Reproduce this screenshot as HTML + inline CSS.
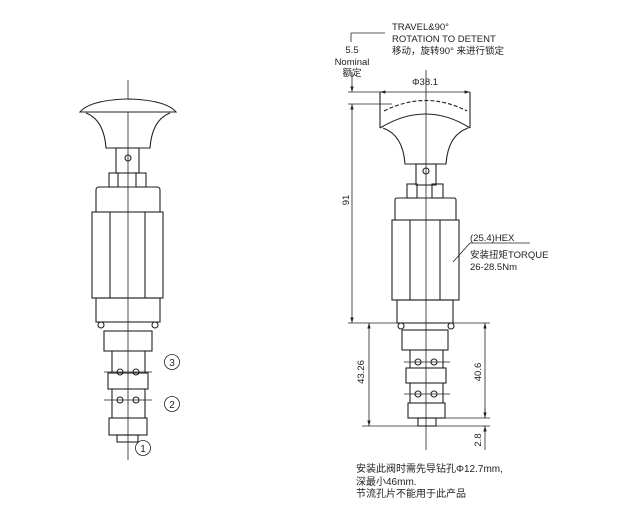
<!DOCTYPE html>
<html><head><meta charset="utf-8"><style>
html,body{margin:0;padding:0;background:#fff;}
svg{display:block;}
text{font-family:"Liberation Sans","Noto Sans CJK SC",sans-serif;fill:#222;}
</style></head><body>
<svg width="636" height="521" viewBox="0 0 636 521" xmlns="http://www.w3.org/2000/svg">
<defs>
<marker id="a" viewBox="0 0 10 10" refX="10" refY="5" markerWidth="7" markerHeight="7" orient="auto-start-reverse"><path d="M0,2 L10,5 L0,8 z" fill="#222"/></marker>
</defs>
<g fill="none" stroke="#222" stroke-width="1.1">
<!-- LEFT VALVE -->
<line x1="128" y1="80" x2="128" y2="460" stroke-width="0.8"/>
<path d="M80,112 Q90,100 128,99 Q166,100 176,112 Z" fill="#fff"/>
<path d="M86,113 Q104,120 106,148 L150,148 Q152,120 170,113"/>
<rect x="116" y="148" width="23" height="25"/>
<circle cx="128" cy="158" r="3"/>
<rect x="109" y="173" width="9" height="14"/>
<rect x="136" y="173" width="10" height="14"/>
<path d="M96,212 L96,190 Q96,187 99,187 L157,187 Q160,187 160,190 L160,212"/>
<rect x="92" y="212" width="71" height="86"/>
<line x1="110" y1="212" x2="110" y2="298"/><line x1="145" y1="212" x2="145" y2="298"/>
<rect x="96" y="298" width="64" height="24"/>
<circle cx="101" cy="325" r="3"/><circle cx="155" cy="325" r="3"/>
<rect x="104" y="331" width="48" height="20"/>
<path d="M112,351 L112,373 M145,351 L145,373"/>
<line x1="104" y1="372" x2="152" y2="372" stroke-width="0.7"/>
<circle cx="120" cy="372" r="3"/><circle cx="136" cy="372" r="3"/>
<rect x="108" y="373" width="40" height="16"/>
<path d="M112,389 L112,418 M145,389 L145,418"/>
<line x1="104" y1="400" x2="152" y2="400" stroke-width="0.7"/>
<circle cx="120" cy="400" r="3"/><circle cx="136" cy="400" r="3"/>
<rect x="109" y="418" width="38" height="17"/>
<rect x="117" y="435" width="21" height="7"/>
<circle cx="172" cy="362" r="7.5" stroke-width="0.8"/>
<circle cx="172" cy="404" r="7.5" stroke-width="0.8"/>
<circle cx="143" cy="448" r="7.5" stroke-width="0.8"/>

<!-- RIGHT VALVE -->
<line x1="426" y1="70" x2="426" y2="450" stroke-width="0.8"/>
<path d="M380,128 L380,92 M470,128 L470,92"/>
<path d="M380,128 Q426,100 470,128"/>
<path d="M384,111 Q426,90 467,111" stroke-dasharray="4,2"/>
<path d="M383,128 Q403,135 405,164 L446,164 Q448,135 468,128"/>
<rect x="416" y="164" width="20" height="21"/>
<circle cx="426" cy="171" r="3"/>
<rect x="407" y="184" width="10" height="14"/>
<rect x="432" y="184" width="11" height="14"/>
<path d="M395,220 L395,200 Q395,198 397,198 L454,198 Q456,198 456,200 L456,220"/>
<rect x="392" y="220" width="67" height="80"/>
<line x1="410" y1="220" x2="410" y2="300"/><line x1="440" y1="220" x2="440" y2="300"/>
<rect x="397" y="300" width="56" height="23"/>
<circle cx="401" cy="326" r="3"/><circle cx="451" cy="326" r="3"/>
<rect x="402" y="330" width="46" height="20"/>
<path d="M410,350 L410,368 M443,350 L443,368"/>
<line x1="404" y1="362" x2="450" y2="362" stroke-width="0.7"/>
<circle cx="418" cy="362" r="3"/><circle cx="434" cy="362" r="3"/>
<rect x="406" y="368" width="40" height="15"/>
<path d="M410,383 L410,403 M443,383 L443,403"/>
<line x1="404" y1="394" x2="450" y2="394" stroke-width="0.7"/>
<circle cx="418" cy="394" r="3"/><circle cx="434" cy="394" r="3"/>
<rect x="408" y="403" width="37" height="15"/>
<rect x="418" y="418" width="18" height="8"/>

<!-- dims -->
<line x1="380" y1="92" x2="470" y2="92" marker-start="url(#a)" marker-end="url(#a)" stroke-width="0.8"/>
<line x1="348" y1="104" x2="392" y2="104" stroke-width="0.8"/>
<line x1="348" y1="92" x2="385" y2="92" stroke-width="0.8"/>
<path d="M352,72 L352,92" marker-end="url(#a)" stroke-width="0.8"/>
<path d="M351,33 L385,33 M351,33 L351,42" stroke-width="0.8"/>
<line x1="352" y1="104" x2="352" y2="323" marker-start="url(#a)" marker-end="url(#a)" stroke-width="0.8"/>
<line x1="348" y1="323" x2="490" y2="323" stroke-width="0.8"/>
<line x1="369" y1="323" x2="369" y2="426" marker-start="url(#a)" marker-end="url(#a)" stroke-width="0.8"/>
<line x1="485" y1="323" x2="485" y2="418" marker-start="url(#a)" marker-end="url(#a)" stroke-width="0.8"/>
<line x1="430" y1="418" x2="490" y2="418" stroke-width="0.8"/>
<line x1="362" y1="426" x2="490" y2="426" stroke-width="0.8"/>
<path d="M485,408 L485,418" stroke-width="0.8"/>
<path d="M485,450 L485,426" marker-end="url(#a)" stroke-width="0.8"/>
<path d="M453,262 L470,243 L530,243" stroke-width="0.8"/>
</g>
<g font-size="10" text-anchor="middle"><text x="172" y="366">3</text><text x="172" y="408">2</text><text x="143" y="452">1</text></g>
<g font-size="9.5">
<text x="392" y="30">TRAVEL&amp;90°</text>
<text x="392" y="42">ROTATION TO DETENT</text>
<text x="392" y="54">移动，旋转90° 来进行锁定</text>
<text x="352" y="53" text-anchor="middle">5.5</text>
<text x="352" y="65" text-anchor="middle">Nominal</text>
<text x="352" y="76" text-anchor="middle">额定</text>
<text x="425" y="85" text-anchor="middle">Φ38.1</text>
<text x="470" y="241">(25.4)HEX</text>
<text x="470" y="258">安装扭矩TORQUE</text>
<text x="470" y="270">26-28.5Nm</text>
<text transform="translate(349,200) rotate(-90)" text-anchor="middle">91</text>
<text transform="translate(364,372) rotate(-90)" text-anchor="middle">43.26</text>
<text transform="translate(481,372) rotate(-90)" text-anchor="middle">40.6</text>
<text transform="translate(481,440) rotate(-90)" text-anchor="middle">2.8</text>
<text x="356" y="472" font-size="10">安装此阀时需先导钻孔Φ12.7mm,</text>
<text x="356" y="485" font-size="10">深最小46mm.</text>
<text x="356" y="497" font-size="10">节流孔片不能用于此产品</text>
</g>
</svg>
</body></html>
